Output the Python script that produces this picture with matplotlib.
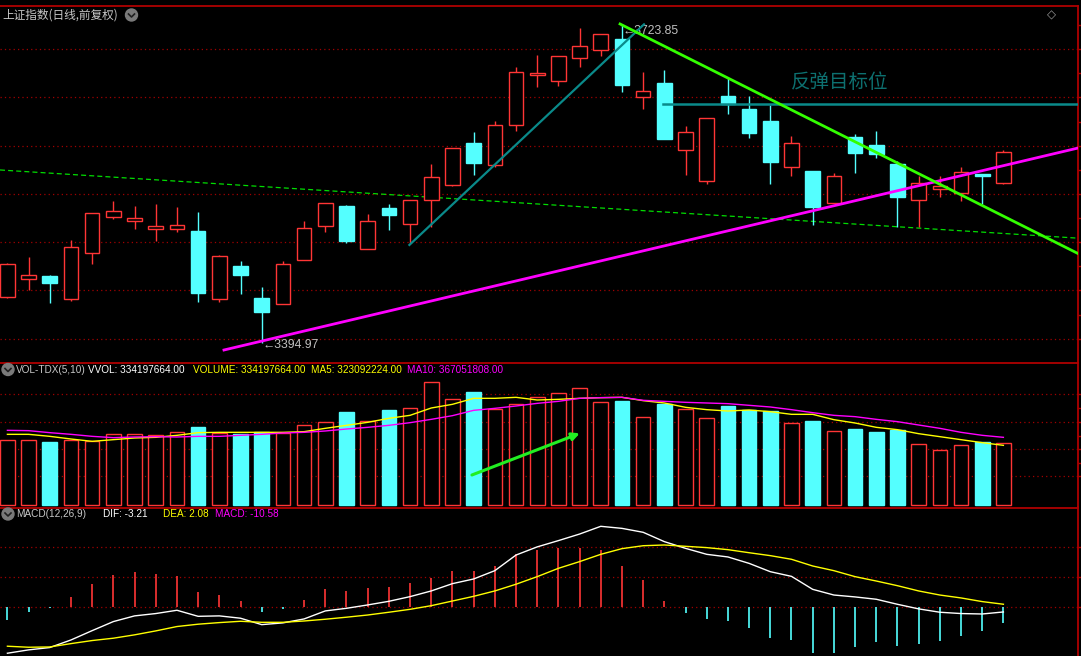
import matplotlib
matplotlib.use('Agg')
import matplotlib.pyplot as plt
from matplotlib.patches import Ellipse
import numpy as np

W, H = 1081, 656

# ---- daily bars (48 sessions) ----
opens = [3441.9, 3460.5, 3463.9, 3440.5, 3487.4, 3525.2, 3521.1, 3512.8, 3512.8, 3510.4,
         3440.5, 3474.2, 3441.2, 3435.3, 3480.8, 3515.9, 3536.3, 3492.1, 3534.2, 3517.3,
         3542.2, 3558.3, 3601.4, 3578.3, 3619.7, 3671.3, 3665.1, 3688.9, 3697.2, 3708.6,
         3649.2, 3663.4, 3593.8, 3561.6, 3650.0, 3636.5, 3624.1, 3576.3, 3572.4, 3539.7,
         3607.6, 3599.3, 3579.4, 3542.2, 3553.5, 3550.0, 3569.0, 3560.3]
closes = [3476.0, 3464.6, 3457.0, 3493.6, 3528.7, 3530.8, 3523.9, 3515.3, 3516.3, 3446.7,
          3484.3, 3464.9, 3426.7, 3476.3, 3513.2, 3539.4, 3500.1, 3520.4, 3527.3, 3542.2,
          3565.9, 3595.9, 3581.0, 3619.7, 3674.4, 3673.7, 3691.3, 3701.3, 3713.7, 3661.6,
          3655.1, 3605.8, 3612.4, 3626.9, 3642.0, 3612.0, 3582.0, 3601.4, 3535.5, 3567.3,
          3591.3, 3590.3, 3545.9, 3559.7, 3556.6, 3571.1, 3567.6, 3591.8]
highs = [3477.5, 3483.6, 3464.6, 3501.1, 3529.0, 3541.4, 3536.3, 3538.3, 3535.2, 3530.1,
         3485.6, 3479.4, 3452.5, 3479.4, 3520.8, 3539.4, 3537.0, 3528.0, 3538.3, 3542.2,
         3579.7, 3595.9, 3612.7, 3624.1, 3679.9, 3692.3, 3691.3, 3720.5, 3713.7, 3723.85,
         3674.8, 3676.8, 3618.9, 3626.9, 3668.2, 3650.0, 3640.7, 3608.3, 3572.4, 3570.1,
         3610.7, 3613.8, 3582.8, 3567.6, 3567.3, 3576.6, 3569.0, 3594.1]
lows = [3440.9, 3449.1, 3436.3, 3438.4, 3476.6, 3522.8, 3512.5, 3500.1, 3509.7, 3437.0,
        3437.4, 3445.6, 3394.97, 3435.3, 3480.8, 3509.7, 3498.3, 3492.1, 3511.8, 3497.7,
        3514.2, 3557.2, 3568.3, 3577.0, 3614.1, 3659.6, 3660.6, 3680.2, 3691.6, 3654.4,
        3636.8, 3605.8, 3568.6, 3559.3, 3631.7, 3606.9, 3559.3, 3567.6, 3516.9, 3539.7,
        3570.7, 3586.2, 3514.2, 3514.9, 3545.9, 3541.7, 3538.3, 3559.0]

# volume in millions of shares
volume = [350.4, 350.4, 341.3, 350.4, 346.7, 383.0, 383.0, 377.6, 393.9, 422.9,
          388.5, 383.0, 393.9, 388.5, 432.0, 448.3, 504.6, 453.8, 515.5, 524.5,
          666.1, 573.5, 613.4, 519.1, 546.3, 584.4, 606.2, 633.4, 557.2, 564.4,
          475.6, 548.1, 519.1, 470.1, 537.2, 513.6, 510.0, 442.9, 455.6, 399.3,
          412.0, 395.7, 406.6, 328.6, 295.9, 323.2, 343.1, 334.2]
vol_ma5 = [383.0, 383.0, 372.1, 357.6, 344.9, 354.0, 363.1, 366.7, 377.6, 392.1,
           393.9, 393.9, 393.9, 393.9, 397.5, 415.7, 432.0, 448.3, 470.1, 486.4,
           526.4, 546.3, 579.0, 579.0, 584.4, 569.9, 573.5, 579.0, 582.6, 584.4,
           566.3, 553.6, 530.0, 517.3, 510.0, 515.5, 506.4, 491.9, 491.9, 462.8,
           444.7, 421.1, 408.4, 386.6, 370.3, 354.0, 337.7, 323.1]
vol_ma10 = [404.8, 403.0, 392.1, 383.0, 372.1, 364.9, 368.5, 370.3, 368.5, 372.1,
            372.1, 377.6, 383.0, 390.3, 393.9, 401.2, 412.0, 421.1, 432.0, 446.5,
            464.6, 484.6, 513.6, 524.5, 537.2, 551.7, 562.6, 579.0, 582.6, 584.4,
            568.1, 562.6, 557.2, 553.6, 549.9, 540.9, 531.8, 517.3, 500.9, 486.4,
            479.2, 464.6, 452.0, 433.8, 415.7, 393.9, 377.6, 366.7]

dif = [-31.5, -29.2, -27.6, -22.4, -16.0, -9.8, -5.9, -4.3, -2.05, -6.2,
       -5.9, -7.5, -11.9, -10.7, -8.0, -2.5, -0.7, 1.6, 4.1, 7.3,
       11.2, 16.2, 19.4, 25.1, 35.8, 41.4, 45.7, 50.2, 55.5, 54.1,
       51.4, 45.0, 40.4, 36.3, 34.5, 30.1, 24.4, 21.2, 12.3, 8.4,
       7.1, 5.5, 2.05, -1.1, -3.4, -4.3, -4.6, -3.21]
dea = [-26.7, -27.4, -27.2, -24.9, -22.8, -21.2, -18.9, -16.2, -13.2, -11.6,
       -10.5, -9.6, -10.3, -10.3, -9.4, -8.2, -6.8, -5.3, -3.4, -1.4,
       1.1, 4.3, 7.5, 11.2, 15.8, 21.0, 26.7, 31.3, 36.3, 40.2,
       42.2, 42.7, 41.8, 40.9, 39.5, 37.4, 35.4, 32.9, 28.3, 25.1,
       21.0, 18.0, 14.8, 11.2, 8.4, 6.4, 3.9, 2.08]
macd = [-8.7, -3.2, -0.3, 7.1, 16.0, 22.1, 24.2, 22.8, 21.5, 10.5,
        8.5, 4.3, -3.2, -1.1, 5.0, 12.6, 11.2, 13.2, 13.9, 16.7,
        20.1, 24.9, 24.9, 28.3, 36.5, 39.3, 40.6, 40.6, 39.3, 28.3,
        18.7, 4.3, -3.7, -7.8, -9.1, -13.9, -20.8, -22.1, -31.1, -31.1,
        -26.9, -23.5, -26.3, -24.9, -22.8, -19.4, -16.0, -10.58]

# drawn lines: (bar index, price) anchors
support_x, support_y = [10.22, 50.66], [3387.4, 3596.9]      # magenta
down_x, down_y = [28.91, 50.66], [3724.4, 3485.6]            # green
up_x, up_y = [18.97, 30.04], [3496.0, 3724.0]                # teal
long_ma_x, long_ma_y = [-0.35, 50.52], [3573.5, 3503.0]      # green dashed
target_x, target_y = [30.94, 50.66], [3641.3, 3641.3]        # teal level
arrow_from, arrow_to = (21.92, 161.7), (27.01, 388.6)        # volume arrow

price_grid = [3398.5, 3449.0, 3498.7, 3548.3, 3597.9, 3648.6, 3698.2]
vol_grid = [156, 301, 448, 601]
macd_grid = [21.0, 41.5]

RED = '#ff3535'
CYAN = '#54ffff'
GRID = '#a00000'
BORDER = '#b00000'
SANS = ['Liberation Sans', 'DejaVu Sans']
CJK = ['Noto Sans CJK SC', 'DejaVu Sans']
HEAD = 7.2


def px_rect(x0, y0, x1, y1):
    return [x0 / W, 1 - y1 / H, (x1 - x0) / W, (y1 - y0) / H]


fig = plt.figure(figsize=(W / 100, H / 100), dpi=100, facecolor='black')
renderer = fig.canvas.get_renderer()
ax_p = fig.add_axes(px_rect(0, 5.5, 1078, 362))
ax_v = fig.add_axes(px_rect(0, 362.5, 1078, 506.5))
ax_m = fig.add_axes(px_rect(0, 507.5, 1078, 656))

for ax in (ax_p, ax_v, ax_m):
    ax.set_facecolor('black')
    ax.set_xlim(-0.35, 50.52)
    ax.set_xticks([])
    for side in ('left', 'bottom'):
        ax.spines[side].set_visible(False)
    for side in ('top', 'right'):
        ax.spines[side].set_color(BORDER)
        ax.spines[side].set_linewidth(1.3)
    ax.yaxis.tick_right()
    ax.tick_params(axis='y', colors=BORDER, length=3, width=1, labelright=False)

ax_p.set_ylim(3375.0, 3743.5)
ax_v.set_ylim(-9.8, 774.0)
ax_m.set_ylim(-33.4, 68.4)

# right-edge ticks every half grid step
pg = np.array(price_grid)
ax_p.set_yticks(np.sort(np.concatenate([pg, (pg[:-1] + pg[1:]) / 2, [pg[-1] + 25]])))
vg = np.array(vol_grid)
ax_v.set_yticks(np.concatenate([vg, (vg[:-1] + vg[1:]) / 2]))
ax_m.set_yticks([0] + macd_grid)

idx = np.arange(len(opens))
o = np.array(opens)
c = np.array(closes)
up = c >= o
col = np.where(up, RED, CYAN)
lo_b = np.minimum(o, c)
hi_b = np.maximum(o, c)

# price panel
for g in price_grid:
    ax_p.axhline(g, color=GRID, lw=0.9, ls=(0, (1, 2.5)), zorder=0)
ax_p.plot(long_ma_x, long_ma_y, color='#00dd00', lw=0.9, ls=(0, (4, 2.5)), zorder=1)
ax_p.vlines(idx, hi_b, highs, colors=col, lw=1.0, zorder=2)
ax_p.vlines(idx, lows, lo_b, colors=col, lw=1.0, zorder=2)
ax_p.bar(idx, hi_b - lo_b, bottom=lo_b, width=0.69,
         color=np.where(up, 'black', CYAN), edgecolor=col, linewidth=1.0, zorder=3)
ax_p.plot(up_x, up_y, color='#0a8a8a', lw=1.6, zorder=4)
ax_p.plot(target_x, target_y, color='#0a8a8a', lw=1.8, zorder=4)
ax_p.plot(support_x, support_y, color='#ff00ff', lw=2.0, zorder=5)
ax_p.plot(down_x, down_y, color='#33ff00', lw=2.0, zorder=5)
ax_p.text(36.98, 3663.4, '反弹目标位', color='#0d7070', fontsize=14,
          family=CJK, ha='left', va='center')

hi_i = int(np.argmax(highs))
lo_i = int(np.argmin(lows))
ax_p.annotate('←%.2f' % highs[hi_i], (hi_i, highs[hi_i]), xytext=(1, -6),
              textcoords='offset pixels', color='#c0c0c0', fontsize=8.8,
              family=SANS, ha='left', va='center')
ax_p.annotate('←%.2f' % lows[lo_i], (lo_i, lows[lo_i]), xytext=(1, -2),
              textcoords='offset pixels', color='#c0c0c0', fontsize=8.8,
              family=SANS, ha='left', va='center')

# volume panel
for g in vol_grid:
    ax_v.axhline(g, color=GRID, lw=0.9, ls=(0, (1, 2.5)), zorder=0)
ax_v.bar(idx, volume, width=0.69, color=np.where(up, 'black', CYAN),
         edgecolor=col, linewidth=1.0, zorder=2)
ax_v.plot(idx, vol_ma5, color='#ffff00', lw=1.0, zorder=3)
ax_v.plot(idx, vol_ma10, color='#ff00ff', lw=1.0, zorder=3)
ax_v.annotate('', xy=arrow_to, xytext=arrow_from,
              arrowprops=dict(arrowstyle='-|>', color='#22ee22', lw=2.2,
                              mutation_scale=11, shrinkA=0, shrinkB=0), zorder=4)

# macd panel
ax_m.axhline(0, color=GRID, lw=0.9, ls=(0, (1, 2.5)), zorder=0)
for g in macd_grid:
    ax_m.axhline(g, color=GRID, lw=0.9, ls=(0, (1, 2.5)), zorder=0)
m = np.array(macd)
ax_m.vlines(idx, 0, m, colors=np.where(m >= 0, RED, CYAN), lw=1.2, zorder=2)
ax_m.plot(idx, dif, color='white', lw=1.0, zorder=3)
ax_m.plot(idx, dea, color='#ffff00', lw=1.0, zorder=3)


def ftext(x, y, s, color, size=HEAD, family=SANS):
    return fig.text(x / W, 1 - y / H, s, color=color, fontsize=size, family=family,
                    ha='left', va='center')


def chevron(x, y, r=6):
    fig.add_artist(Ellipse((x / W, 1 - y / H), 2 * r / W, 2 * r / H,
                           transform=fig.transFigure, color='#7a7a7a'))
    fig.add_artist(plt.Line2D([(x - 3) / W, x / W, (x + 3) / W],
                              [1 - (y - 1) / H, 1 - (y + 2) / H, 1 - (y - 1) / H],
                              transform=fig.transFigure, color='#202020', lw=1.2))


# title sized to the width it takes in the reference
title = ftext(2, 15, '上证指数(日线,前复权)', '#c8c8c8', size=11, family=CJK)
tw = title.get_window_extent(renderer=renderer).width
title.set_fontsize(11 * 116 / tw)
chevron(131.5, 15)
fig.text(1051 / W, 1 - 15 / H, '◇', color='#9a9a9a', fontsize=8.5,
         family=['DejaVu Sans'], ha='center', va='center')

chevron(8, 369.5)
ftext(16, 370, 'VOL-TDX(5,10)', '#c8c8c8')
ftext(88, 370, 'VVOL: 334197664.00', 'white')
ftext(193, 370, 'VOLUME: 334197664.00', '#ffff00')
ftext(311, 370, 'MA5: 323092224.00', '#ffff00')
ftext(407, 370, 'MA10: 367051808.00', '#ff00ff')

chevron(8, 514)
ftext(16, 514, 'MACD(12,26,9)', '#c8c8c8')
ftext(103, 514, 'DIF: -3.21', 'white')
ftext(163, 514, 'DEA: 2.08', '#ffff00')
ftext(215, 514, 'MACD: -10.58', '#ff00ff')

fig.savefig('out.png', dpi=100, facecolor='black')
